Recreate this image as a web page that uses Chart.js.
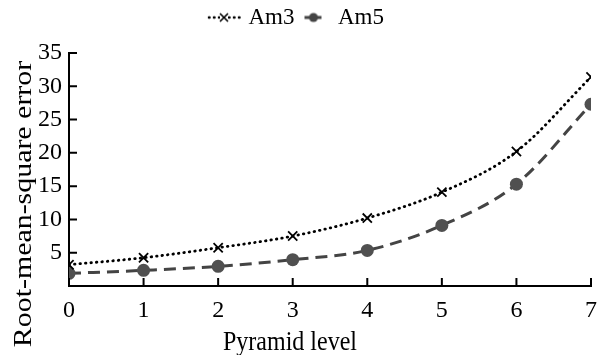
<!DOCTYPE html>
<html>
<head>
<meta charset="utf-8">
<script src="https://cdn.jsdelivr.net/npm/chart.js@4.4.0/dist/chart.umd.min.js"></script>
<style>
  html, body { margin: 0; padding: 0; background: #fff; }
  #wrap { width: 607px; height: 355px; }
</style>
</head>
<body>
<div id="wrap"><canvas id="chart-rms"></canvas></div>
<script>
// data
var levels = [0, 1, 2, 3, 4, 5, 6, 7];
var am3 = [3.2, 4.25, 5.75, 7.5, 10.2, 14.1, 20.2, 31.4];
var am5 = [1.9, 2.35, 2.95, 3.95, 5.35, 9.1, 15.3, 27.3];
var yTicks = [5, 10, 15, 20, 25, 30, 35];
var xTitle = "Pyramid level";
var yTitle = "Root-mean-square error";

Chart.defaults.font.family = "Liberation Serif";
Chart.defaults.color = "#000";

function pts(vals) {
  return levels.map(function (l, i) { return { x: l, y: vals[i] }; });
}

// little legend swatches: line pattern + marker
function swatch(dash, color, lw, marker, w) {
  var c = document.createElement("canvas");
  c.width = w; c.height = 14;
  var g = c.getContext("2d");
  g.strokeStyle = color;
  g.lineWidth = lw;
  g.lineCap = marker === "x" ? "round" : "butt";
  g.setLineDash(dash);
  g.beginPath(); g.moveTo(2, 7); g.lineTo(w - 1, 7); g.stroke();
  g.setLineDash([]);
  var m = w / 2;
  if (marker === "x") {
    g.lineWidth = 1.6;
    g.lineCap = "butt";
    g.fillStyle = "#fff";
    g.fillRect(m - 4, 2, 8, 10);
    g.beginPath();
    g.moveTo(m - 4, 3); g.lineTo(m + 4, 11);
    g.moveTo(m + 4, 3); g.lineTo(m - 4, 11);
    g.stroke();
  } else {
    g.fillStyle = color;
    g.beginPath(); g.arc(m, 7, 4.5, 0, Math.PI * 2); g.fill();
  }
  return c;
}
var sw3 = swatch([0.5, 4.5], "#000", 2.6, "x", 34);
var sw5 = swatch([6, 5], "#444", 2.8, "o", 22);

var innerTicks = {
  id: "innerTicks",
  afterDraw: function (chart) {
    var ctx = chart.ctx, a = chart.chartArea;
    var x = chart.scales.x, y = chart.scales.y;
    ctx.save();
    ctx.strokeStyle = "#000";
    ctx.lineWidth = 2;
    ctx.beginPath();
    levels.forEach(function (v) {
      var px = x.getPixelForValue(v);
      ctx.moveTo(px, a.bottom); ctx.lineTo(px, a.bottom - 8);
    });
    yTicks.forEach(function (v) {
      var py = y.getPixelForValue(v);
      ctx.moveTo(a.left, py); ctx.lineTo(a.left + 8, py);
    });
    ctx.stroke();
    ctx.restore();
  }
};

// axis titles, a bit stretched like the scanned figure
var axisTitles = {
  id: "axisTitles",
  afterDraw: function (chart) {
    var ctx = chart.ctx, a = chart.chartArea;
    ctx.save();
    ctx.fillStyle = "#000";
    ctx.textAlign = "center";
    ctx.textBaseline = "middle";
    ctx.font = '24px "Liberation Serif"';
    ctx.save();
    ctx.translate((a.left + a.right) / 2 - 40, a.bottom + 57);
    ctx.scale(1, 1.15);
    ctx.fillText(xTitle, 0, 0);
    ctx.restore();
    ctx.font = '26px "Liberation Serif"';
    ctx.translate(24, a.bottom - 82);
    ctx.rotate(-Math.PI / 2);
    ctx.scale(1.15, 1);
    ctx.fillText(yTitle, 0, 0);
    ctx.restore();
  }
};

// extra room between legend and plot
var legendGap = {
  id: "legendGap",
  beforeInit: function (chart) {
    var fit = chart.legend.fit;
    chart.legend.fit = function () {
      fit.bind(chart.legend)();
      this.height += 14;
    };
  }
};

var ctx1 = document.getElementById("chart-rms").getContext("2d");
new Chart(ctx1, {
  type: "line",
  data: {
    datasets: [{
      label: "Am3",
      data: pts(am3),
      borderColor: "#000",
      borderWidth: 2.8,
      borderDash: [0.5, 5],
      borderCapStyle: "round",
      cubicInterpolationMode: "monotone",
      pointStyle: "crossRot",
      pointRadius: 6.5,
      pointBorderWidth: 1.8,
      pointBorderColor: "#000",
      pointBackgroundColor: "#fff",
      fill: false
    }, {
      label: "Am5",
      data: pts(am5),
      borderColor: "#444",
      borderWidth: 3,
      borderDash: [12, 7],
      cubicInterpolationMode: "monotone",
      pointStyle: "circle",
      pointRadius: 6.5,
      pointBorderWidth: 0,
      pointBackgroundColor: "#505050",
      fill: false
    }]
  },
  options: {
    responsive: true,
    maintainAspectRatio: false,
    animation: false,
    layout: { padding: { left: 0, right: 12, top: 0, bottom: 0 } },
    plugins: {
      legend: {
        display: true,
        position: "top",
        labels: {
          usePointStyle: true,
          pointStyleWidth: 26,
          padding: 6,
          font: { size: 23 },
          color: "#000",
          generateLabels: function () {
            return [
              { text: "Am3", pointStyle: sw3, datasetIndex: 0, fontColor: "#000", lineWidth: 0, strokeStyle: "rgba(0,0,0,0)", fillStyle: "rgba(0,0,0,0)" },
              { text: "Am5", pointStyle: sw5, datasetIndex: 1, fontColor: "#000", lineWidth: 0, strokeStyle: "rgba(0,0,0,0)", fillStyle: "rgba(0,0,0,0)" }
            ];
          }
        }
      },
      tooltip: { enabled: false }
    },
    scales: {
      x: {
        type: "linear",
        min: 0,
        max: 7,
        grid: { display: false, drawTicks: false },
        border: { display: true, color: "#000", width: 2 },
        ticks: { stepSize: 1, padding: 10, font: { size: 24 } },
        title: { display: false },
        afterFit: function (s) { s.height = 69; }
      },
      y: {
        min: 0,
        max: 35,
        grid: { display: false, drawTicks: false },
        border: { display: true, color: "#000", width: 2 },
        ticks: {
          stepSize: 5,
          padding: 7,
          font: { size: 24 },
          callback: function (v) { return v === 0 ? "" : v; }
        },
        title: { display: false },
        afterFit: function (s) { s.width = 69; }
      }
    }
  },
  plugins: [innerTicks, legendGap, axisTitles]
});
</script>
</body>
</html>
